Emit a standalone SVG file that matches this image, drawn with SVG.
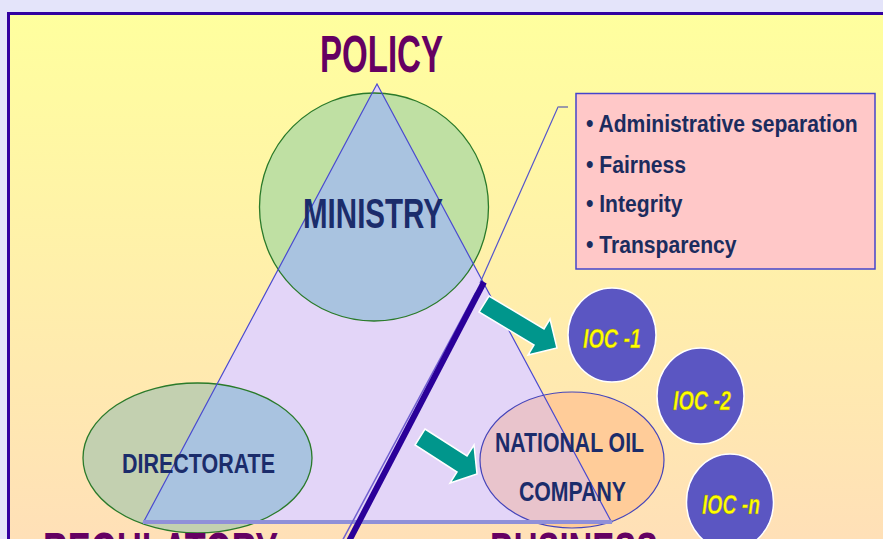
<svg xmlns="http://www.w3.org/2000/svg" width="883" height="539" viewBox="0 0 883 539">
  <defs>
    <linearGradient id="bg" x1="0" y1="0" x2="0" y2="1">
      <stop offset="0" stop-color="#ffff9e"/>
      <stop offset="1" stop-color="#ffdfb8"/>
    </linearGradient>
    <clipPath id="tri">
      <polygon points="377,84 143,523 612,523"/>
    </clipPath>
    <style>
      .lbl{font-family:"Liberation Sans",Arial,sans-serif;font-weight:bold;}
      .big{font-size:52px;fill:#650062;}
      .node{fill:#1b2c6b;text-anchor:middle;}
      .bul{font-size:24px;fill:#1b2c5e;}
      .ioc{font-size:28px;fill:#ffff00;font-style:italic;text-anchor:middle;stroke:#8a7a20;stroke-width:0.4;}
      .iocc{fill:#5b56c2;stroke:#ffffff;stroke-width:1.5;}
      .ell{stroke:#2a7a2a;stroke-width:1.3;}
      .arrow{fill:#00968c;stroke:#ffffff;stroke-width:1.5;stroke-linejoin:miter;}
    </style>
  </defs>

  <g id="background">
    <rect x="0" y="0" width="883" height="539" fill="#e4e4fa"/>
    <rect x="8.5" y="13.5" width="880" height="540" fill="url(#bg)" stroke="#3300a0" stroke-width="3"/>
  </g>

  <g id="triangle">
    <polygon points="377,84 143,523 612,523" fill="#e3d5f8"/>
  </g>

  <g id="ministry">
    <ellipse cx="374" cy="207" rx="114.5" ry="114" fill="#bfe0a3"/>
    <ellipse cx="374" cy="207" rx="114.5" ry="114" fill="#a9c3e0" clip-path="url(#tri)"/>
    <ellipse cx="374" cy="207" rx="114.5" ry="114" fill="none" class="ell"/>
  </g>

  <g id="directorate">
    <ellipse cx="197.5" cy="458" rx="114.5" ry="75" fill="#c3d0b0"/>
    <ellipse cx="197.5" cy="458" rx="114.5" ry="75" fill="#a9c3e0" clip-path="url(#tri)"/>
    <ellipse cx="197.5" cy="458" rx="114.5" ry="75" fill="none" class="ell"/>
  </g>

  <g id="national-oil-company">
    <ellipse cx="572" cy="460" rx="92" ry="68" fill="#ffcc99"/>
    <ellipse cx="572" cy="460" rx="92" ry="68" fill="#e9c4cc" clip-path="url(#tri)"/>
    <ellipse cx="572" cy="460" rx="92" ry="68" fill="none" stroke="#4444bb" stroke-width="1.2"/>
  </g>

  <g id="triangle-outline">
    <polyline points="143,523 377,84 612,523" fill="none" stroke="#4a4ad0" stroke-width="1.2"/>
    <line x1="143" y1="522" x2="612" y2="522" stroke="#9090d8" stroke-width="4"/>
  </g>

  <g id="connectors">
    <polyline points="480,283 558,107 568,107" fill="none" stroke="#5555cc" stroke-width="1.2"/>
    <line x1="558" y1="107" x2="568" y2="107" stroke="#9a9aa8" stroke-width="2"/>
    <line x1="476" y1="292" x2="340" y2="545" stroke="#7060d0" stroke-width="1.5"/>
    <line x1="484" y1="282" x2="347" y2="545" stroke="#2a0099" stroke-width="6"/>
    <polygon class="arrow" points="489,296 544,329 550,319 557,348 528,355 534,345 479,312"/>
    <polygon class="arrow" points="425,429 467,456 474,445 477,474 450,483 457,472 415,445"/>
  </g>

  <g id="ioc-1">
    <ellipse class="iocc" cx="612" cy="335" rx="44" ry="47"/>
    <text class="lbl ioc" x="612" y="348" textLength="58" lengthAdjust="spacingAndGlyphs">IOC -1</text>
  </g>
  <g id="ioc-2">
    <ellipse class="iocc" cx="700.5" cy="396" rx="43.5" ry="48"/>
    <text class="lbl ioc" x="702" y="410" textLength="58" lengthAdjust="spacingAndGlyphs">IOC -2</text>
  </g>
  <g id="ioc-n">
    <ellipse class="iocc" cx="730" cy="502" rx="43.5" ry="48"/>
    <text class="lbl ioc" x="731" y="514" textLength="58" lengthAdjust="spacingAndGlyphs">IOC -n</text>
  </g>

  <g id="principles">
    <rect x="576" y="93.5" width="299" height="175.5" fill="#ffc8c8" stroke="#4444cc" stroke-width="1.5"/>
    <text class="lbl bul" transform="translate(586,132) scale(0.88,1)" x="0" y="0">• Administrative separation</text>
    <text class="lbl bul" transform="translate(586,173) scale(0.88,1)" x="0" y="0">• Fairness</text>
    <text class="lbl bul" transform="translate(586,212) scale(0.88,1)" x="0" y="0">• Integrity</text>
    <text class="lbl bul" transform="translate(586,253) scale(0.88,1)" x="0" y="0">• Transparency</text>
  </g>

  <g id="labels">
    <text class="lbl big" x="320" y="72" textLength="123" lengthAdjust="spacingAndGlyphs">POLICY</text>
    <text class="lbl big" x="43" y="569" textLength="235" lengthAdjust="spacingAndGlyphs">REGULATORY</text>
    <text class="lbl big" x="490" y="569" textLength="168" lengthAdjust="spacingAndGlyphs">BUSINESS</text>
    <text class="lbl node" x="373" y="228" style="font-size:43px" textLength="140" lengthAdjust="spacingAndGlyphs">MINISTRY</text>
    <text class="lbl node" x="198.5" y="473" style="font-size:27px" textLength="153" lengthAdjust="spacingAndGlyphs">DIRECTORATE</text>
    <text class="lbl node" x="569.5" y="452" style="font-size:28px" textLength="149" lengthAdjust="spacingAndGlyphs">NATIONAL OIL</text>
    <text class="lbl node" x="572.5" y="501" style="font-size:28px" textLength="107" lengthAdjust="spacingAndGlyphs">COMPANY</text>
  </g>
</svg>
